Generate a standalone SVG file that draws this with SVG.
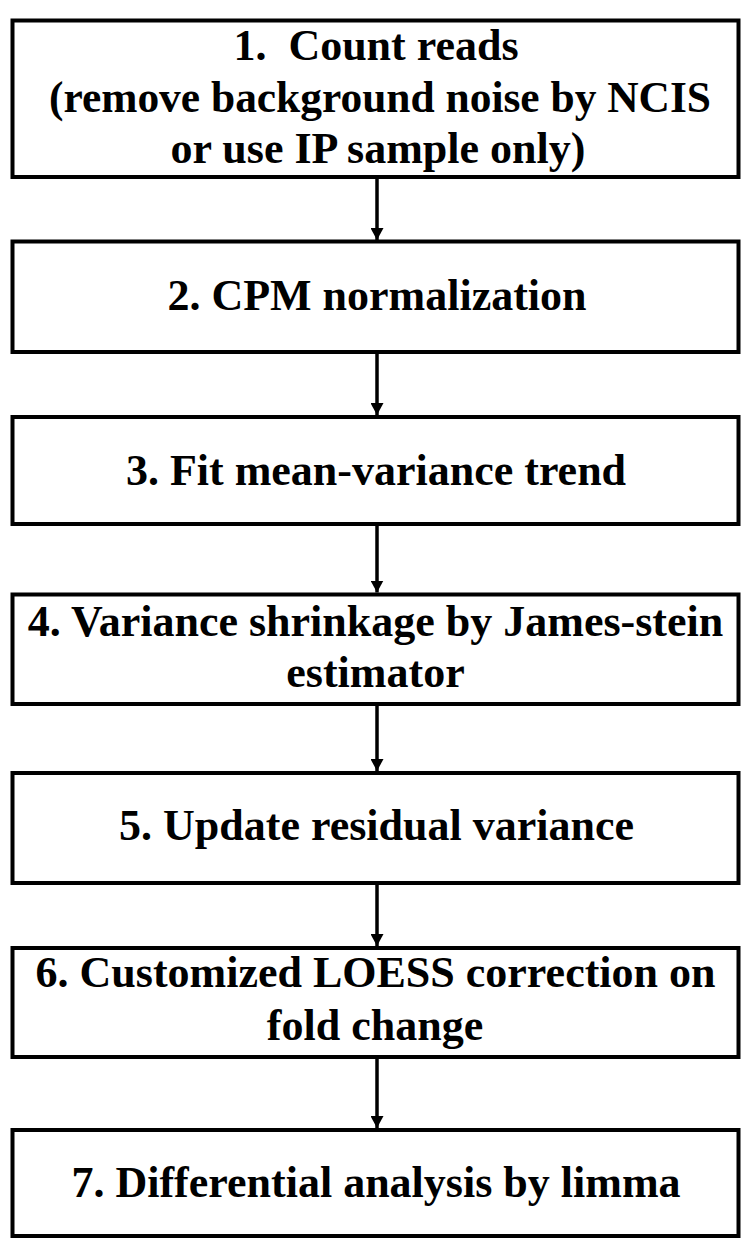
<svg xmlns="http://www.w3.org/2000/svg" width="750" height="1247" viewBox="0 0 750 1247">
  <defs>
    <style>
      .box { fill: #ffffff; stroke: #000000; stroke-width: 4; }
      .lbl { font-family: "Liberation Serif", "Times New Roman", serif; font-weight: bold; font-size: 44px; fill: #000000; text-anchor: middle; }
      .conn { stroke: #000000; stroke-width: 3.5; fill: none; marker-end: url(#arrow); }
    </style>
    <marker id="arrow" viewBox="0 0 12 13" refX="12" refY="6.5" markerWidth="12" markerHeight="13" markerUnits="userSpaceOnUse" orient="auto">
      <path d="M0,0 L12,6.5 L0,13 Z" fill="#000000"/>
    </marker>
  </defs>
  <rect width="750" height="1247" fill="#ffffff"/>
  <g id="connectors">
    <line class="conn" x1="377" y1="179" x2="377" y2="240"/>
    <line class="conn" x1="377" y1="354" x2="377" y2="415"/>
    <line class="conn" x1="377" y1="526" x2="377" y2="592.5"/>
    <line class="conn" x1="377" y1="706" x2="377" y2="771"/>
    <line class="conn" x1="377" y1="885" x2="377" y2="946"/>
    <line class="conn" x1="377" y1="1059" x2="377" y2="1128"/>
  </g>
  <g id="node1">
    <rect class="box" x="12.5" y="20.5" width="726" height="156.5"/>
    <text class="lbl" x="376" y="60" xml:space="preserve">1.  Count reads</text>
    <text class="lbl" x="380" y="112" textLength="662" lengthAdjust="spacingAndGlyphs">(remove background noise by NCIS</text>
    <text class="lbl" x="378" y="163">or use IP sample only)</text>
  </g>
  <g id="node2">
    <rect class="box" x="12.5" y="241.5" width="726" height="110.5"/>
    <text class="lbl" x="377" y="310">2. CPM normalization</text>
  </g>
  <g id="node3">
    <rect class="box" x="12.5" y="417" width="726" height="107"/>
    <text class="lbl" x="376" y="485">3. Fit mean-variance trend</text>
  </g>
  <g id="node4">
    <rect class="box" x="12.5" y="594.5" width="726" height="109.5"/>
    <text class="lbl" x="375.5" y="636">4. Variance shrinkage by James-stein</text>
    <text class="lbl" x="375.5" y="687">estimator</text>
  </g>
  <g id="node5">
    <rect class="box" x="12.5" y="773" width="726" height="110"/>
    <text class="lbl" x="376.5" y="840">5. Update residual variance</text>
  </g>
  <g id="node6">
    <rect class="box" x="12.5" y="948" width="726" height="109"/>
    <text class="lbl" x="375.5" y="987">6. Customized LOESS correction on</text>
    <text class="lbl" x="375" y="1040">fold change</text>
  </g>
  <g id="node7">
    <rect class="box" x="12.5" y="1130" width="726" height="106"/>
    <text class="lbl" x="376" y="1197">7. Differential analysis by limma</text>
  </g>
</svg>
